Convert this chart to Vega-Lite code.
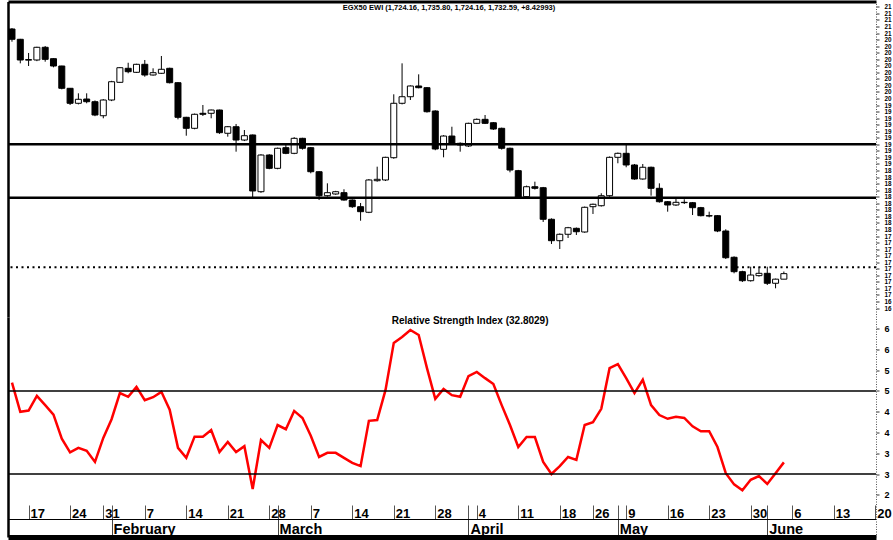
{
  "$schema": "https://vega.github.io/schema/vega-lite/v6.json",
  "width": 868,
  "height": 535.5,
  "autosize": {"type": "none"},
  "padding": {"left": 8, "top": 1.5, "right": 17, "bottom": 3},
  "background": "white",
  "config": {"view": {"stroke": null}, "font": "Liberation Sans", "axis": {"grid": false}, "scale": {"continuousPadding": 0}},
  "title": {"text": "EGX50 EWI (1,724.16, 1,735.80, 1,724.16, 1,732.59, +8.42993)", "orient": "top", "anchor": "middle", "frame": "group", "offset": -9, "dy": 7, "baseline": "alphabetic", "fontSize": 7.5, "fontWeight": "bold", "font": "Liberation Sans", "color": "black", "dx": 7},
  "datasets": {
    "candles": [
      {"i":0,"o":2106.1,"h":2107.6,"l":2086.7,"c":2090.4,"r":52},
      {"i":1,"o":2090.4,"h":2091.0,"l":2053.7,"c":2058.8,"r":45},
      {"i":2,"o":2058.5,"h":2069.5,"l":2049.6,"c":2059.5,"r":45.3},
      {"i":3,"o":2058.8,"h":2079.0,"l":2057.0,"c":2078.2,"r":48.8},
      {"i":4,"o":2078.2,"h":2080.1,"l":2056.2,"c":2059.8,"r":46.6},
      {"i":5,"o":2060.8,"h":2061.5,"l":2047.6,"c":2049.6,"r":44.3},
      {"i":6,"o":2049.6,"h":2050.0,"l":2014.0,"c":2015.6,"r":38.5},
      {"i":7,"o":2015.6,"h":2016.0,"l":1990.1,"c":1992.7,"r":35.2},
      {"i":8,"o":1992.7,"h":2007.9,"l":1991.0,"c":1998.8,"r":36.3},
      {"i":9,"o":1999.2,"h":2007.9,"l":1992.7,"c":1995.1,"r":35.6},
      {"i":10,"o":1995.1,"h":1997.0,"l":1973.0,"c":1974.8,"r":32.9},
      {"i":11,"o":1973.7,"h":1999.0,"l":1969.8,"c":1997.7,"r":38.7},
      {"i":12,"o":1997.7,"h":2027.0,"l":1996.0,"c":2025.6,"r":43.2},
      {"i":13,"o":2024.7,"h":2048.0,"l":2024.0,"c":2047.0,"r":49.5},
      {"i":14,"o":2046.1,"h":2054.6,"l":2038.5,"c":2040.9,"r":48.6},
      {"i":15,"o":2040.0,"h":2053.0,"l":2039.0,"c":2052.2,"r":51},
      {"i":16,"o":2052.2,"h":2058.8,"l":2033.3,"c":2035.9,"r":47.8},
      {"i":17,"o":2035.9,"h":2046.1,"l":2035.0,"c":2039.4,"r":48.5},
      {"i":18,"o":2038.5,"h":2064.9,"l":2037.5,"c":2044.6,"r":49.8},
      {"i":19,"o":2046.1,"h":2047.0,"l":2023.0,"c":2024.1,"r":45.5},
      {"i":20,"o":2024.1,"h":2025.0,"l":1968.2,"c":1971.3,"r":36.3},
      {"i":21,"o":1971.3,"h":1972.0,"l":1943.2,"c":1954.5,"r":33.9},
      {"i":22,"o":1954.5,"h":1977.0,"l":1953.0,"c":1975.9,"r":39},
      {"i":23,"o":1977.4,"h":1990.1,"l":1973.3,"c":1975.9,"r":39},
      {"i":24,"o":1977.4,"h":1983.0,"l":1969.8,"c":1982.4,"r":40.6},
      {"i":25,"o":1982.4,"h":1983.0,"l":1946.0,"c":1947.8,"r":35.3},
      {"i":26,"o":1946.9,"h":1958.0,"l":1941.7,"c":1956.9,"r":37.7},
      {"i":27,"o":1956.9,"h":1961.1,"l":1918.8,"c":1936.6,"r":35.3},
      {"i":28,"o":1936.6,"h":1951.9,"l":1935.0,"c":1943.2,"r":36.7},
      {"i":29,"o":1944.3,"h":1945.0,"l":1846.6,"c":1858.8,"r":26.4},
      {"i":30,"o":1857.7,"h":1915.0,"l":1856.0,"c":1913.7,"r":38.2},
      {"i":31,"o":1913.7,"h":1915.0,"l":1892.0,"c":1893.4,"r":36.3},
      {"i":32,"o":1893.4,"h":1925.0,"l":1892.0,"c":1924.0,"r":41.8},
      {"i":33,"o":1924.9,"h":1929.0,"l":1915.0,"c":1916.3,"r":40.8},
      {"i":34,"o":1916.3,"h":1941.0,"l":1915.0,"c":1939.2,"r":45.2},
      {"i":35,"o":1939.2,"h":1940.0,"l":1922.0,"c":1924.0,"r":43.5},
      {"i":36,"o":1924.9,"h":1926.0,"l":1885.8,"c":1888.2,"r":39.2},
      {"i":37,"o":1888.2,"h":1889.0,"l":1845.0,"c":1851.6,"r":34.1},
      {"i":38,"o":1851.6,"h":1870.5,"l":1850.0,"c":1856.2,"r":35.1},
      {"i":39,"o":1854.2,"h":1859.0,"l":1853.0,"c":1857.7,"r":35.1},
      {"i":40,"o":1856.2,"h":1861.4,"l":1844.0,"c":1845.0,"r":33.9},
      {"i":41,"o":1845.0,"h":1846.0,"l":1833.0,"c":1834.8,"r":32.7},
      {"i":42,"o":1834.8,"h":1840.5,"l":1813.4,"c":1827.2,"r":31.9},
      {"i":43,"o":1826.3,"h":1877.0,"l":1825.0,"c":1875.6,"r":42.8},
      {"i":44,"o":1874.5,"h":1895.9,"l":1873.0,"c":1876.6,"r":43},
      {"i":45,"o":1875.6,"h":1911.0,"l":1874.0,"c":1910.2,"r":50.2},
      {"i":46,"o":1909.6,"h":2006.4,"l":1908.0,"c":1992.7,"r":61.6},
      {"i":47,"o":1992.7,"h":2053.7,"l":1991.0,"c":2002.7,"r":63},
      {"i":48,"o":2002.7,"h":2020.0,"l":1997.7,"c":2019.1,"r":64.7},
      {"i":49,"o":2019.1,"h":2036.9,"l":2015.5,"c":2016.5,"r":63.5},
      {"i":50,"o":2016.5,"h":2017.5,"l":1978.5,"c":1979.8,"r":55.5},
      {"i":51,"o":1980.9,"h":1982.0,"l":1921.0,"c":1922.9,"r":48.1},
      {"i":52,"o":1922.4,"h":1944.0,"l":1910.2,"c":1942.7,"r":50.5},
      {"i":53,"o":1942.7,"h":1956.9,"l":1930.0,"c":1931.6,"r":49},
      {"i":54,"o":1931.6,"h":1933.0,"l":1918.8,"c":1929.0,"r":48.6},
      {"i":55,"o":1927.5,"h":1963.0,"l":1926.0,"c":1962.1,"r":53.6},
      {"i":56,"o":1962.1,"h":1969.5,"l":1961.0,"c":1968.2,"r":54.6},
      {"i":57,"o":1968.2,"h":1974.8,"l":1961.0,"c":1962.1,"r":53.1},
      {"i":58,"o":1963.0,"h":1964.0,"l":1952.0,"c":1953.4,"r":51.7},
      {"i":59,"o":1954.5,"h":1955.5,"l":1922.0,"c":1924.0,"r":46.6},
      {"i":60,"o":1924.0,"h":1925.0,"l":1887.3,"c":1890.8,"r":41.8},
      {"i":61,"o":1889.8,"h":1891.0,"l":1848.0,"c":1849.2,"r":36.5},
      {"i":62,"o":1850.1,"h":1867.0,"l":1849.0,"c":1865.3,"r":38.9},
      {"i":63,"o":1865.3,"h":1873.0,"l":1861.0,"c":1862.9,"r":38.9},
      {"i":64,"o":1863.8,"h":1865.0,"l":1811.5,"c":1815.6,"r":32.9},
      {"i":65,"o":1815.6,"h":1817.0,"l":1777.9,"c":1782.9,"r":30},
      {"i":66,"o":1782.9,"h":1794.0,"l":1770.2,"c":1792.7,"r":31.9},
      {"i":67,"o":1792.7,"h":1804.0,"l":1787.0,"c":1802.7,"r":34.1},
      {"i":68,"o":1801.8,"h":1803.0,"l":1791.6,"c":1796.6,"r":33.4},
      {"i":69,"o":1796.2,"h":1835.0,"l":1795.0,"c":1833.9,"r":41.8},
      {"i":70,"o":1834.8,"h":1839.5,"l":1823.7,"c":1838.5,"r":42.5},
      {"i":71,"o":1836.3,"h":1855.3,"l":1835.0,"c":1851.6,"r":45.7},
      {"i":72,"o":1851.6,"h":1911.5,"l":1850.0,"c":1910.2,"r":55.5},
      {"i":73,"o":1910.2,"h":1917.5,"l":1901.1,"c":1916.3,"r":56.5},
      {"i":74,"o":1916.3,"h":1929.0,"l":1895.0,"c":1898.5,"r":53.1},
      {"i":75,"o":1898.5,"h":1900.0,"l":1876.0,"c":1877.1,"r":49.5},
      {"i":76,"o":1877.1,"h":1900.0,"l":1876.0,"c":1895.0,"r":52.7},
      {"i":77,"o":1895.0,"h":1896.0,"l":1851.6,"c":1862.9,"r":46.6},
      {"i":78,"o":1862.9,"h":1870.5,"l":1841.0,"c":1842.4,"r":44.2},
      {"i":79,"o":1842.4,"h":1843.5,"l":1827.2,"c":1837.4,"r":43.3},
      {"i":80,"o":1837.4,"h":1846.6,"l":1836.0,"c":1841.5,"r":43.8},
      {"i":81,"o":1841.5,"h":1846.1,"l":1838.9,"c":1841.0,"r":43.5},
      {"i":82,"o":1840.9,"h":1842.0,"l":1822.1,"c":1833.3,"r":41.5},
      {"i":83,"o":1833.3,"h":1834.5,"l":1820.0,"c":1821.1,"r":40.3},
      {"i":84,"o":1821.1,"h":1827.2,"l":1818.6,"c":1820.6,"r":40.3},
      {"i":85,"o":1821.1,"h":1822.0,"l":1796.0,"c":1797.7,"r":36.5},
      {"i":86,"o":1797.7,"h":1800.3,"l":1755.0,"c":1756.9,"r":30.2},
      {"i":87,"o":1757.6,"h":1759.0,"l":1733.1,"c":1735.6,"r":27.5},
      {"i":88,"o":1735.6,"h":1737.0,"l":1719.8,"c":1721.8,"r":26.1},
      {"i":89,"o":1721.8,"h":1743.2,"l":1720.5,"c":1730.5,"r":28.6},
      {"i":90,"o":1729.5,"h":1743.2,"l":1728.0,"c":1733.1,"r":29.5},
      {"i":91,"o":1733.1,"h":1743.2,"l":1715.3,"c":1717.9,"r":27.6},
      {"i":92,"o":1717.9,"h":1725.0,"l":1710.2,"c":1724.16,"r":30.2},
      {"i":93,"o":1724.16,"h":1735.8,"l":1724.16,"c":1732.59,"r":32.8029}
    ],
    "levels": [
      {"name": "upper", "v": 1930.1},
      {"name": "lower", "v": 1848.5},
      {"name": "last", "v": 1742.3}
    ],
    "rsilevels": [{"v": 50}, {"v": 30}],
    "rsititle": [{"label": "Relative Strength Index (32.8029)"}]
  },
  "resolve": {"scale": {"y": "independent"}, "axis": {"x": "independent", "y": "independent"}},
  "layer": [
    {
      "data": {"name": "candles"},
      "mark": {"type": "rule", "color": "black", "strokeWidth": 1},
      "encoding": {
        "x": {"field": "i", "type": "quantitative", "scale": {"domain": [-0.48, 104.1], "nice": false, "zero": false, "padding": 0},
              "axis": {"orient": "top", "domain": true, "domainColor": "black", "domainWidth": 3, "ticks": false, "labels": false, "title": null, "grid": false}},
        "y": {"field": "l", "type": "quantitative", "scale": {"domain": [1666.4, 2148.1], "range": [315.5, 0], "nice": false, "zero": false},
              "axis": {"orient": "left", "domain": true, "domainColor": "black", "domainWidth": 2.5, "ticks": false, "labels": false, "title": null, "grid": false}},
        "y2": {"field": "h"}
      }
    },
    {
      "data": {"name": "candles"},
      "mark": {"type": "bar", "size": 6, "stroke": "black", "strokeWidth": 1, "orient": "vertical"},
      "encoding": {
        "x": {"field": "i", "type": "quantitative", "scale": {"domain": [-0.48, 104.1], "nice": false, "zero": false, "padding": 0},
              "axis": {"orient": "bottom", "offset": 0, "values": [12, 32, 55, 73, 91],
                       "labelExpr": "['February','March','April','May','June'][indexof([12,32,55,73,91], datum.value)]",
                       "labelAlign": "left", "labelBaseline": "top", "labelOffset": 1.5, "labelPadding": 3,
                       "labelFont": "Liberation Sans", "labelFontSize": 14.5, "labelFontWeight": "bold", "labelColor": "black",
                       "labelOverlap": false, "labelFlush": false, "labelBound": false,
                       "tickSize": -18, "tickColor": "#444", "tickWidth": 1,
                       "domainColor": "black", "domainWidth": 5, "title": null, "grid": false}},
        "y": {"field": "o", "type": "quantitative", "scale": {"domain": [1666.4, 2148.1], "range": [315.5, 0], "nice": false, "zero": false},
              "axis": {"orient": "right", "values": [1680,1690,1700,1710,1720,1730,1740,1750,1760,1770,1780,1790,1800,1810,1820,1830,1840,1850,1860,1870,1880,1890,1900,1910,1920,1930,1940,1950,1960,1970,1980,1990,2000,2010,2020,2030,2040,2050,2060,2070,2080,2090,2100,2110,2120,2130,2140],
                       "labelExpr": "slice(toString(datum.value), 0, 2)",
                       "labelFont": "Liberation Sans", "labelFontSize": 6.3, "labelFontWeight": "bold", "labelColor": "black",
                       "labelPadding": 5, "labelOverlap": false, "labelFlush": false, "labelBound": false,
                       "tickSize": 3, "tickColor": "#333", "tickWidth": 1,
                       "domainColor": "#555", "domainDash": [1, 1.5], "domainWidth": 1, "title": null, "grid": false}},
        "y2": {"field": "c"},
        "fill": {"condition": {"test": "datum.c < datum.o", "value": "black"}, "value": "white"}
      }
    },
    {
      "data": {"name": "levels"},
      "transform": [{"filter": "datum.name !== 'last'"}],
      "mark": {"type": "rule", "color": "black", "strokeWidth": 2.5},
      "encoding": {
        "y": {"field": "v", "type": "quantitative", "scale": {"domain": [1666.4, 2148.1], "range": [315.5, 0], "nice": false, "zero": false}, "axis": null}
      }
    },
    {
      "data": {"name": "levels"},
      "transform": [{"filter": "datum.name === 'last'"}],
      "mark": {"type": "rule", "color": "black", "strokeWidth": 2, "strokeDash": [2, 3.5]},
      "encoding": {
        "y": {"field": "v", "type": "quantitative", "scale": {"domain": [1666.4, 2148.1], "range": [315.5, 0], "nice": false, "zero": false}, "axis": null}
      }
    },
    {
      "data": {"name": "candles"},
      "mark": {"type": "line", "color": "#ff0000", "strokeWidth": 2.5},
      "encoding": {
        "x": {"field": "i", "type": "quantitative", "scale": {"domain": [-0.48, 104.1], "nice": false, "zero": false, "padding": 0},
              "axis": {"orient": "bottom", "offset": -18,
                       "values": [2,7,11,12,16,21,26,31,32,36,41,46,51,55,56,61,66,70,73,74,79,84,89,91,94,99,104],
                       "labelExpr": "indexof([2,7,11,16,21,26,31,36,41,46,51,56,61,66,70,74,79,84,89,94,99,104], datum.value) < 0 ? '' : ['17','24','31','7','14','21','28','7','14','21','28','4','11','18','26','9','16','23','30','6','13','20'][indexof([2,7,11,16,21,26,31,36,41,46,51,56,61,66,70,74,79,84,89,94,99,104], datum.value)]",
                       "labelAlign": "left", "labelBaseline": "top", "labelOffset": 1.5, "labelPadding": 2,
                       "labelFont": "Liberation Sans", "labelFontSize": 13, "labelFontWeight": "bold", "labelColor": "black",
                       "labelOverlap": false, "labelFlush": false, "labelBound": false,
                       "tickSize": -14, "tickColor": "#555", "tickWidth": 1,
                       "domainColor": "black", "domainWidth": 1.2, "title": null, "grid": false}},
        "y": {"field": "r", "type": "quantitative", "scale": {"domain": [14.82, 67.83], "range": [535.5, 315.5], "nice": false, "zero": false},
              "axis": {"orient": "left", "domain": true, "domainColor": "black", "domainWidth": 2.5, "ticks": false, "labels": false, "title": null, "grid": false}}
      }
    },
    {
      "data": {"name": "rsilevels"},
      "mark": {"type": "rule", "color": "black", "strokeWidth": 1.5},
      "encoding": {
        "y": {"field": "v", "type": "quantitative", "scale": {"domain": [14.82, 67.83], "range": [535.5, 315.5], "nice": false, "zero": false},
              "axis": {"orient": "right", "values": [25, 30, 35, 40, 45, 50, 55, 60, 65],
                       "labelExpr": "slice(toString(datum.value), 0, 1)",
                       "labelFont": "Liberation Sans", "labelFontSize": 9, "labelFontWeight": "bold", "labelColor": "black",
                       "labelPadding": 5, "labelOverlap": false, "labelFlush": false, "labelBound": false,
                       "tickSize": 3, "tickColor": "#333", "tickWidth": 1,
                       "domainColor": "#555", "domainDash": [1, 1.5], "domainWidth": 1, "title": null, "grid": false}}
      }
    },
    {
      "data": {"name": "rsititle"},
      "mark": {"type": "text", "font": "Liberation Sans", "fontSize": 10, "fontWeight": "bold", "color": "black", "align": "center", "baseline": "middle"},
      "encoding": {
        "x": {"datum": 55.2, "type": "quantitative", "scale": {"domain": [-0.48, 104.1], "nice": false, "zero": false, "padding": 0}, "axis": null},
        "y": {"datum": 66.9, "type": "quantitative", "scale": {"domain": [14.82, 67.83], "range": [535.5, 315.5], "nice": false, "zero": false}, "axis": null},
        "text": {"field": "label"}
      }
    }
  ]
}
